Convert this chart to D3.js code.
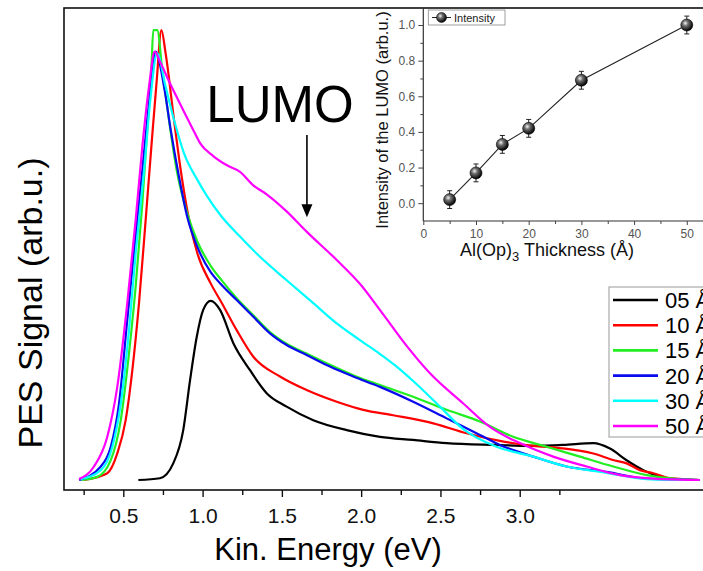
<!DOCTYPE html>
<html><head><meta charset="utf-8">
<script src="https://cdn.jsdelivr.net/npm/d3@7"></script>
<style>
body{margin:0;background:#fff}
svg{display:block}
text{font-family:"Liberation Sans",Arial,sans-serif}
</style>
</head><body>
<svg id="c" width="703" height="571"></svg>
<script>
// ---------- data ----------
const seriesNames = ["05 Å","10 Å","15 Å","20 Å","30 Å","50 Å"];
const seriesColors = ["#000000","#ff0000","#22ee22","#0a0aef","#00ffff","#ff00ff"];

// [kinetic energy (eV), PES signal (arb.u.)]
const spec05 = [[0.595,0],[0.731,0.4],[0.815,3.7],[0.878,11.1],[0.921,22.2],[0.963,31.8],[1.004,37.8],[1.051,39.8],[1.110,37.8],[1.194,30.4],[1.299,24.4],[1.404,19.3],[1.530,16.3],[1.698,13.3],[1.909,11.1],[2.119,9.6],[2.328,8.9],[2.539,8.2],[2.854,7.8],[3.064,7.6],[3.274,7.8],[3.464,8.2],[3.569,7.0],[3.674,4.4],[3.779,2.2],[3.884,0.7],[4.010,0],[4.136,0]];
const spec10 = [[0.252,0],[0.399,1.5],[0.462,5.9],[0.515,13.3],[0.557,24.4],[0.599,39.3],[0.641,57.8],[0.677,74.1],[0.711,88.9],[0.740,100],[0.767,94.8],[0.820,80.0],[0.862,68.9],[0.903,60.0],[0.967,50.4],[1.051,43.7],[1.122,39.3],[1.215,33.3],[1.320,27.4],[1.488,23.0],[1.656,20.0],[1.846,17.4],[2.013,15.6],[2.202,14.4],[2.455,12.6],[2.665,10.4],[2.875,8.7],[3.085,7.6],[3.253,7.1],[3.464,5.9],[3.594,4.4],[3.674,3.7],[3.758,2.2],[3.842,1.5],[3.947,0.4],[4.136,0]];
const spec15 = [[0.231,0],[0.336,0.7],[0.421,4.4],[0.484,13.3],[0.536,28.2],[0.578,43.0],[0.620,61.5],[0.651,77.8],[0.677,91.1],[0.689,100],[0.714,100],[0.746,91.1],[0.788,80.0],[0.840,68.2],[0.903,59.3],[0.967,53.0],[1.051,47.6],[1.122,44.3],[1.215,40.4],[1.320,36.6],[1.425,32.9],[1.530,30.3],[1.656,28.1],[1.803,25.6],[1.950,23.3],[2.119,21.1],[2.328,18.5],[2.539,15.6],[2.749,13.0],[2.959,9.6],[3.170,7.4],[3.380,5.2],[3.590,3.0],[3.800,1.1],[3.968,0.3],[4.136,0]];
const spec20 = [[0.221,0],[0.358,3.0],[0.421,7.4],[0.473,17.0],[0.525,35.6],[0.567,50.4],[0.620,68.9],[0.662,83.7],[0.704,95.2],[0.757,87.4],[0.799,77.8],[0.851,67.4],[0.903,58.5],[0.967,51.8],[1.051,46.2],[1.122,43.3],[1.215,40.0],[1.320,36.3],[1.425,32.6],[1.530,30.0],[1.656,27.8],[1.803,25.2],[1.950,23.0],[2.119,20.7],[2.328,17.4],[2.539,13.7],[2.749,10.0],[2.875,7.8],[3.085,5.2],[3.296,3.0],[3.548,1.8],[3.800,0.3],[4.136,0]];
const spec30 = [[0.231,0.2],[0.358,2.2],[0.431,7.4],[0.484,17.0],[0.536,33.3],[0.578,50.4],[0.631,68.9],[0.668,83.7],[0.714,94.8],[0.767,87.4],[0.820,80.0],[0.883,72.6],[0.967,66.7],[1.030,63.0],[1.112,58.9],[1.236,54.1],[1.362,49.6],[1.530,44.4],[1.698,39.3],[1.846,34.8],[1.992,31.1],[2.119,28.0],[2.224,25.2],[2.328,22.0],[2.497,16.3],[2.644,11.3],[2.854,7.4],[3.085,5.2],[3.296,3.0],[3.548,1.6],[3.800,0.2],[4.136,0]];
const spec50 = [[0.221,0.2],[0.315,3.0],[0.399,9.6],[0.462,20.7],[0.525,39.3],[0.578,57.8],[0.620,74.1],[0.662,87.4],[0.698,95.2],[0.731,93.0],[0.795,88.1],[0.878,82.2],[0.941,77.8],[0.985,74.8],[1.067,72.0],[1.151,70.0],[1.236,68.5],[1.320,65.5],[1.404,63.5],[1.530,59.7],[1.656,55.2],[1.846,48.9],[1.992,43.6],[2.139,36.8],[2.287,29.8],[2.434,23.7],[2.644,17.0],[2.812,11.8],[3.001,8.2],[3.211,5.2],[3.422,3.0],[3.632,1.1],[3.905,0.2],[4.136,0]];
const spectra = [spec05, spec10, spec15, spec20, spec30, spec50];

const xMajorTicks = [0.5,1.0,1.5,2.0,2.5,3.0];
const xMinorTicks = [0.25,0.75,1.25,1.75,2.25,2.75,3.25];

// inset: LUMO intensity vs Al(Op)3 thickness
const thickness = [5,10,15,20,30,50];
const lumoIntensity = [0.02,0.17,0.33,0.42,0.69,1.0];
const lumoError = [0.05,0.05,0.05,0.05,0.05,0.05];
const insetXTicks = [0,10,20,30,40,50];
const insetXMinor = [5,15,25,35,45];
const insetYTicks = [0.0,0.2,0.4,0.6,0.8,1.0];
const insetYMinor = [0.1,0.3,0.5,0.7,0.9];

// annotation: LUMO arrow (eV, signal from -> to)
const lumoArrow = {E:1.658, from:76.7, to:58.4};

// ---------- drawing ----------
const svg = d3.select("#c");
const W = 703, H = 571;
const x = d3.scaleLinear().domain([0.126, 4.20]).range([64, 710]);
const y = d3.scaleLinear().domain([-2.22, 104.9]).range([490, 8]);

svg.append("rect").attr("width",W).attr("height",H).attr("fill","#fff");

// curves
const line = d3.line().x(d=>x(d[0])).y(d=>y(d[1])).curve(d3.curveMonotoneX);
spectra.forEach((s,i)=>{
  svg.append("path").datum(s).attr("d",line)
    .attr("fill","none").attr("stroke",seriesColors[i]).attr("stroke-width",2.2)
    .attr("stroke-linejoin","round");
});

// frame
svg.append("rect").attr("x",64).attr("y",8).attr("width",646).attr("height",482)
  .attr("fill","none").attr("stroke","#111").attr("stroke-width",1.6);

// x axis
const gx = svg.append("g").attr("transform","translate(0,490)")
  .call(d3.axisBottom(x).tickValues(xMajorTicks).tickFormat(d3.format(".1f")).tickSize(7).tickPadding(11));
gx.select(".domain").remove();
gx.selectAll("line").attr("stroke","#111").attr("stroke-width",1.4);
gx.selectAll("text").attr("font-size",21).attr("fill","#111");
const gxm = svg.append("g").attr("transform","translate(0,490)")
  .call(d3.axisBottom(x).tickValues(xMinorTicks).tickFormat("").tickSize(5));
gxm.select(".domain").remove();
gxm.selectAll("line").attr("stroke","#111").attr("stroke-width",1.4);

// axis titles
svg.append("text").attr("x",328).attr("y",560).attr("text-anchor","middle")
  .attr("font-size",31).text("Kin. Energy (eV)");
svg.append("text").attr("transform","translate(42,303) rotate(-90)").attr("text-anchor","middle")
  .attr("font-size",34).text("PES Signal (arb.u.)");

// LUMO label + arrow
svg.append("text").attr("x",280).attr("y",122).attr("text-anchor","middle")
  .attr("font-size",51).text("LUMO");
const ax = x(lumoArrow.E);
svg.append("line").attr("x1",ax).attr("x2",ax).attr("y1",y(lumoArrow.from)).attr("y2",y(lumoArrow.to)-10)
  .attr("stroke","#000").attr("stroke-width",1.6);
svg.append("path").attr("d",`M${ax-5.5},${y(lumoArrow.to)-13}L${ax+5.5},${y(lumoArrow.to)-13}L${ax},${y(lumoArrow.to)}Z`).attr("fill","#000");

// main legend (cut by the right edge, as in the reference)
const lg = svg.append("g");
lg.append("rect").attr("x",609).attr("y",287).attr("width",120).attr("height",150)
  .attr("fill","#fff").attr("stroke","#999").attr("stroke-width",1);
seriesNames.forEach((n,i)=>{
  const yy = 300 + i*25.2;
  lg.append("line").attr("x1",613).attr("x2",658).attr("y1",yy).attr("y2",yy)
    .attr("stroke",seriesColors[i]).attr("stroke-width",2.6);
  lg.append("text").attr("x",665).attr("y",yy+8).attr("font-size",22).text(n);
});

// ---------- inset ----------
const ix = d3.scaleLinear().domain([0,53]).range([423.3,702.6]);
const iy = d3.scaleLinear().domain([-0.1,1.1]).range([221,7.2]);
const defs = svg.append("defs");
const rg = defs.append("radialGradient").attr("id","ball").attr("cx","0.38").attr("cy","0.35").attr("r","0.65");
rg.append("stop").attr("offset","0").attr("stop-color","#f4f4f4");
rg.append("stop").attr("offset","0.35").attr("stop-color","#707070");
rg.append("stop").attr("offset","1").attr("stop-color","#000");

const ins = svg.append("g");
ins.append("line").attr("x1",423.3).attr("x2",423.3).attr("y1",8).attr("y2",221).attr("stroke","#333").attr("stroke-width",1.2);
ins.append("line").attr("x1",423.3).attr("x2",703).attr("y1",221).attr("y2",221).attr("stroke","#333").attr("stroke-width",1.2);

const igx = ins.append("g").attr("transform","translate(0,221)")
  .call(d3.axisBottom(ix).tickValues(insetXTicks).tickSize(4).tickPadding(4));
igx.select(".domain").remove();
igx.selectAll("text").attr("font-size",12).attr("fill","#555");
igx.selectAll("line").attr("stroke","#444");
const igxm = ins.append("g").attr("transform","translate(0,221)")
  .call(d3.axisBottom(ix).tickValues(insetXMinor).tickFormat("").tickSize(3));
igxm.select(".domain").remove(); igxm.selectAll("line").attr("stroke","#444");

const igy = ins.append("g").attr("transform","translate(423.3,0)")
  .call(d3.axisLeft(iy).tickValues(insetYTicks).tickFormat(d3.format(".1f")).tickSize(5).tickPadding(3));
igy.select(".domain").remove();
igy.selectAll("text").attr("font-size",12).attr("fill","#555");
igy.selectAll("line").attr("stroke","#444");
const igym = ins.append("g").attr("transform","translate(423.3,0)")
  .call(d3.axisLeft(iy).tickValues(insetYMinor).tickFormat("").tickSize(3));
igym.select(".domain").remove(); igym.selectAll("line").attr("stroke","#444");

ins.append("text").attr("transform","translate(388,120) rotate(-90)").attr("text-anchor","middle")
  .attr("font-size",16.5).attr("fill","#111").text("Intensity of the LUMO (arb.u.)");
const xt = ins.append("text").attr("x",547).attr("y",256).attr("text-anchor","middle").attr("font-size",18).attr("fill","#111");
xt.append("tspan").text("Al(Op)");
xt.append("tspan").attr("font-size",13).attr("dy",5).text("3");
xt.append("tspan").attr("dy",-5).text(" Thickness (Å)");

const pts = thickness.map((t,i)=>({t, v:lumoIntensity[i], e:lumoError[i]}));
ins.append("path").datum(pts).attr("d",d3.line().x(d=>ix(d.t)).y(d=>iy(d.v)))
  .attr("fill","none").attr("stroke","#222").attr("stroke-width",1.1);
pts.forEach(d=>{
  const cx = ix(d.t);
  ins.append("line").attr("x1",cx).attr("x2",cx).attr("y1",iy(d.v-d.e)).attr("y2",iy(d.v+d.e)).attr("stroke","#222").attr("stroke-width",1);
  [d.v-d.e,d.v+d.e].forEach(v=>ins.append("line").attr("x1",cx-2.5).attr("x2",cx+2.5).attr("y1",iy(v)).attr("y2",iy(v)).attr("stroke","#222").attr("stroke-width",1));
  ins.append("circle").attr("cx",cx).attr("cy",iy(d.v)).attr("r",6).attr("fill","url(#ball)").attr("stroke","#000").attr("stroke-width",0.6);
});

ins.append("rect").attr("x",428.3).attr("y",10).attr("width",76.7).attr("height",15).attr("fill","#fff").attr("stroke","#888").attr("stroke-width",0.8);
ins.append("line").attr("x1",432).attr("x2",451).attr("y1",17.5).attr("y2",17.5).attr("stroke","#222").attr("stroke-width",1);
ins.append("circle").attr("cx",441.5).attr("cy",17.5).attr("r",5).attr("fill","url(#ball)").attr("stroke","#000").attr("stroke-width",0.5);
ins.append("text").attr("x",454).attr("y",21.5).attr("font-size",11).attr("fill","#222").text("Intensity");
</script>
</body></html>
